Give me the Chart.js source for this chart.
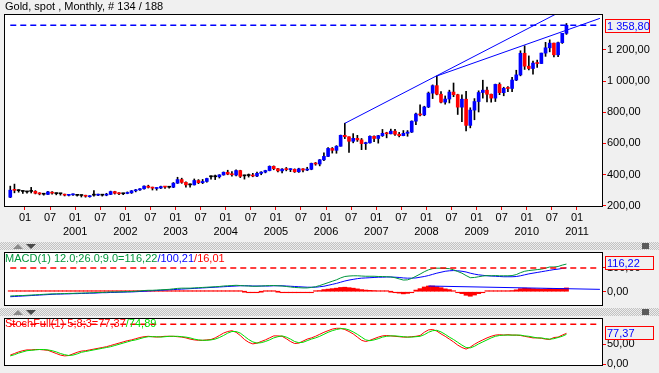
<!DOCTYPE html>
<html>
<head>
<meta charset="utf-8">
<script src="https://cdn.jsdelivr.net/npm/chart.js@4.4.1/dist/chart.umd.min.js"></script>
<style>
  body { margin: 0; width: 659px; height: 373px; overflow: hidden; position: relative; background: #f0f0f0;
         font-family: "Liberation Sans", Arial, sans-serif; font-size: 11px; }
  canvas { position: absolute; left: 0; }
  .title { position: absolute; left: 5px; white-space: nowrap; line-height: 13px; z-index: 2; }
  .band { position: absolute; left: 0; width: 659px; height: 8px;
          background: repeating-conic-gradient(#c2c2c2 0 25%, #ededed 0 50%) 0 0 / 2px 2px; }
  .up { position: absolute; left: 13px; top: 2px; width: 0; height: 0;
        border-left: 5px solid transparent; border-right: 5px solid transparent; border-bottom: 5px solid #8a8a8a; }
  .down { position: absolute; left: 26px; top: 2px; width: 0; height: 0;
          border-left: 5px solid transparent; border-right: 5px solid transparent; border-top: 5px solid #4a4a4a; }
  .close { position: absolute; left: 642px; top: 1px; width: 7px; height: 6px; background: #5a5a5a; }
</style>
</head>
<body>
<div class="title" style="top:0">Gold, spot , Monthly, # 134 / 188</div>
<canvas id="price" width="659" height="240" style="top:0"></canvas>
<div class="band" style="top:242px"><div class="up"></div><div class="down"></div><div class="close"></div></div>
<canvas id="macd" width="659" height="56" style="top:251px"></canvas>
<div class="title" style="top:252px"><span style="color:#00963c">MACD(1) 12.0;26.0;9.0=116,22</span><span style="color:#0000ff">/100,21</span><span style="color:#ff0000">/16,01</span></div>
<div class="band" style="top:308px"><div class="up"></div><div class="down"></div><div class="close"></div></div>
<canvas id="stoch" width="659" height="56" style="top:317px"></canvas>
<div class="title" style="top:317px"><span style="color:#ff0000">StochFull(1) 5;8;3=77,37</span><span style="color:#00dd00">/74,89</span></div>

<script>
// Gold spot, monthly candles Sep 1999 - Oct 2010

function monthRange(year, month, count) {
    const out = [];
    for (let k = 0; k < count; k++) {
        const y = year + Math.floor((month - 1 + k) / 12);
        const m = (month - 1 + k) % 12 + 1;
        out.push(y + '-' + String(m).padStart(2, '0'));
    }
    return out;
}

const axisMonths = monthRange(1999, 8, 143);     // Aug 1999 .. Jun 2011
const candleMonths = axisMonths.slice(1, 135);   // Sep 1999 .. Oct 2010
const firstYearLabel = 2001;

const opens = [
    255, 301, 297, 292, 289, 292, 293, 280, 274, 273, 284, 278,
    277, 274, 267, 270, 267, 266, 266, 258, 268, 268, 268, 268,
    273, 291, 280, 277, 279, 283, 296, 302, 309, 326, 318, 311,
    314, 323, 319, 319, 345, 368, 350, 334, 334, 362, 348, 356,
    386, 386, 386, 398, 415, 403, 397, 426, 392, 394, 394, 391,
    408, 416, 426, 453, 438, 424, 436, 432, 434, 418, 437, 429,
    434, 472, 468, 495, 517, 568, 556, 582, 652, 643, 614, 633,
    623, 599, 604, 646, 632, 650, 665, 662, 679, 659, 650, 665,
    673, 743, 789, 783, 834, 923, 971, 916, 865, 885, 930, 913,
    833, 884, 716, 814, 869, 927, 942, 916, 891, 979, 926, 955,
    953, 1007, 1040, 1179, 1096, 1081, 1116, 1113, 1180, 1214, 1244, 1169,
    1247, 1307
];
const highs = [
    326, 339, 303, 296, 293, 318, 297, 284, 280, 293, 291, 282,
    279, 275, 272, 276, 272, 269, 268, 265, 298, 275, 272, 280,
    294, 293, 284, 281, 289, 298, 305, 311, 328, 332, 320, 316,
    326, 325, 322, 349, 383, 377, 353, 341, 372, 368, 369, 377,
    392, 397, 400, 417, 428, 420, 430, 428, 397, 404, 408, 416,
    419, 428, 456, 456, 440, 439, 446, 438, 437, 441, 438, 447,
    474, 478, 497, 540, 573, 574, 586, 654, 730, 643, 663, 652,
    632, 608, 649, 649, 652, 690, 672, 692, 691, 671, 683, 683,
    745, 795, 848, 839, 930, 976, 1033, 933, 905, 942, 988, 916,
    912, 934, 829, 888, 938, 1006, 962, 917, 981, 989, 961, 965,
    1025, 1070, 1195, 1227, 1162, 1128, 1135, 1180, 1249, 1265, 1245, 1250,
    1307, 1370
];
const lows = [
    252, 283, 287, 279, 281, 282, 276, 270, 268, 271, 275, 270,
    268, 263, 263, 266, 262, 256, 255, 255, 262, 264, 262, 264,
    271, 275, 271, 271, 277, 279, 289, 299, 306, 314, 301, 300,
    310, 311, 313, 316, 343, 344, 319, 319, 333, 342, 342, 351,
    370, 368, 378, 396, 399, 390, 392, 381, 371, 384, 386, 387,
    399, 411, 424, 431, 418, 411, 424, 419, 414, 414, 418, 425,
    431, 460, 456, 489, 515, 538, 537, 582, 631, 543, 604, 613,
    560, 561, 602, 612, 602, 645, 636, 661, 651, 642, 649, 646,
    670, 720, 776, 778, 830, 888, 912, 860, 852, 860, 900, 786,
    740, 681, 700, 752, 802, 891, 866, 865, 869, 913, 906, 932,
    932, 1003, 1034, 1075, 1072, 1044, 1088, 1113, 1159, 1188, 1155, 1157,
    1242, 1300
];
const closes = [
    300, 299, 297, 292, 289, 292, 280, 276, 274, 289, 281, 278,
    277, 268, 270, 273, 267, 266, 261, 264, 268, 272, 268, 273,
    291, 280, 277, 277, 283, 296, 302, 309, 326, 318, 313, 314,
    323, 320, 319, 345, 368, 350, 334, 334, 362, 348, 356, 375,
    386, 386, 398, 415, 403, 399, 426, 389, 392, 394, 391, 408,
    416, 426, 453, 438, 424, 435, 432, 434, 418, 437, 429, 434,
    472, 468, 495, 517, 568, 556, 582, 652, 643, 614, 633, 623,
    599, 604, 646, 632, 650, 665, 662, 679, 659, 650, 665, 673,
    743, 789, 783, 834, 923, 971, 916, 865, 885, 930, 913, 833,
    884, 716, 814, 869, 927, 942, 916, 891, 979, 926, 954, 953,
    1007, 1040, 1179, 1096, 1081, 1116, 1113, 1180, 1214, 1244, 1169, 1247,
    1307, 1358.8
];
const priceTicks = [200, 400, 600, 800, 1000, 1200];

// drawn lines on the price panel
const lastCloseMonths = ['1999-09', '2011-06'];
const lastCloseValues = [1358.8, 1358.8];
const trendAMonths = ['2006-05', '2011-06'];
const trendAValues = [729, 1577];
const trendBMonths = ['2008-03', '2011-06'];
const trendBValues = [1033, 1403];

// MACD 12/26/9
const macdLine = [
    -18, -17, -16, -16, -15, -14, -13, -12, -11, -10, -9, -9,
    -8, -8, -7, -7, -6, -6, -5, -5, -4, -3, -3, -2,
    -1, -1, -1, 0, 0, 1, 2, 3, 5, 6, 6, 7,
    8, 9, 10, 12, 14, 15, 15, 15, 16, 17, 18, 19,
    20, 21, 22, 24, 25, 26, 27, 26, 25, 24, 23, 23,
    24, 25, 26, 26, 25, 24, 22, 20, 18, 17, 16, 16,
    18, 21, 26, 32, 38, 44, 50, 58, 64, 66, 67, 67,
    66, 65, 65, 65, 64, 64, 63, 62, 59, 54, 49, 50,
    56, 65, 74, 84, 92, 97, 99, 99, 98, 97, 92, 85,
    78, 68, 59, 60, 63, 66, 68, 67, 68, 67, 67, 67,
    68, 72, 80, 86, 89, 91, 93, 95, 99, 104, 104, 106,
    112, 116.22
];
const signalLine = [
    -21, -20, -19, -18, -17, -16, -15, -14, -13, -12, -11, -10,
    -10, -9, -9, -8, -8, -7, -7, -6, -6, -5, -4, -4,
    -3, -3, -2, -2, -1, -1, 0, 1, 2, 3, 4, 5,
    6, 7, 8, 9, 10, 11, 12, 13, 14, 15, 16, 17,
    18, 19, 20, 21, 22, 23, 24, 25, 25, 25, 24, 24,
    24, 24, 24, 25, 25, 25, 24, 23, 22, 21, 20, 19,
    19, 19, 21, 23, 27, 31, 35, 40, 45, 49, 52, 55,
    57, 58, 59, 60, 61, 61, 62, 62, 61, 60, 58, 57,
    57, 58, 61, 64, 68, 73, 78, 82, 86, 88, 89, 88,
    86, 83, 78, 74, 71, 69, 67, 66, 65, 64, 63, 63,
    63, 64, 67, 71, 75, 78, 81, 84, 87, 90, 93, 95,
    98, 100.21
];
const macdHist = [
    3, 3, 3, 2, 2, 2, 2, 2, 2, 2, 2, 1,
    2, 1, 2, 1, 2, 1, 2, 1, 2, 2, 1, 2,
    2, 2, 1, 2, 1, 2, 2, 2, 3, 3, 2, 2,
    2, 2, 2, 3, 4, 4, 3, 2, 2, 2, 2, 2,
    2, 2, 2, 3, 3, 3, 3, 1, 0, -1, -1, -1,
    0, 1, 2, 1, 0, -1, -2, -3, -4, -4, -4, -3,
    -1, 2, 5, 9, 11, 13, 15, 18, 19, 17, 15, 12,
    9, 7, 6, 5, 3, 3, 1, 0, -2, -6, -9, -7,
    -1, 7, 13, 20, 24, 24, 21, 17, 12, 9, 3, -3,
    -8, -15, -19, -14, -8, -3, 1, 1, 3, 3, 4, 4,
    5, 8, 13, 15, 14, 13, 12, 11, 12, 14, 11, 11,
    14, 16.01
];
const macdTicks = [0, 100];
const macdLevelMonths = ['1999-09', '2011-06'];
const macdLevelValues = [100, 100];
const histTrendMonths = ['2008-01', '2011-06'];
const histTrendValues = [24, 10];

// Stochastic full 5/8/3
const stochK = [
    23, 27, 31, 34, 36, 36, 37, 37, 36, 35, 31, 27,
    23, 21, 22, 26, 30, 33, 34, 36, 38, 40, 42, 44,
    47, 50, 53, 56, 59, 61, 64, 67, 69, 70, 69, 68,
    69, 70, 70, 70, 69, 68, 66, 63, 61, 60, 60, 61,
    62, 66, 72, 78, 82, 84, 80, 72, 62, 55, 51, 53,
    57, 61, 66, 71, 71, 70, 64, 57, 52, 53, 58, 63,
    66, 70, 75, 80, 84, 88, 90, 90, 87, 82, 76, 68,
    60, 57, 60, 64, 68, 71, 72, 71, 70, 69, 68, 68,
    69, 70, 72, 80, 86, 87, 83, 76, 70, 63, 56, 48,
    42, 38, 43, 50, 56, 61, 66, 70, 73, 74, 73, 74,
    73, 73, 72, 70, 68, 66, 66, 65, 63, 62, 67, 68,
    73, 77.37
];
const stochD = [
    21, 24, 28, 31, 34, 35, 36, 37, 37, 36, 34, 31,
    27, 24, 22, 23, 26, 30, 32, 34, 36, 38, 40, 42,
    44, 47, 50, 53, 56, 59, 61, 64, 67, 69, 69, 69,
    68, 69, 70, 70, 70, 69, 68, 66, 63, 61, 60, 60,
    61, 63, 67, 72, 78, 82, 82, 78, 70, 62, 56, 53,
    54, 57, 61, 66, 69, 71, 68, 63, 57, 54, 55, 59,
    63, 66, 70, 75, 80, 84, 87, 89, 89, 86, 81, 75,
    68, 61, 59, 61, 64, 68, 70, 71, 71, 70, 69, 68,
    68, 69, 70, 74, 80, 84, 85, 81, 75, 68, 62, 55,
    48, 42, 41, 45, 51, 56, 61, 66, 70, 72, 73, 73,
    73, 73, 73, 71, 70, 68, 66, 66, 64, 63, 64, 67,
    70, 74.89
];
const stochTicks = [0, 50];
const stochLevelMonths = ['1999-09', '2011-06'];
const stochLevelValues = [100, 100];

const BLUE = '#0000ff';
const RED = '#ff0000';
const MACD_GREEN = '#00963c';
const STOCH_GREEN = '#00dd00';
const FONT = '"Liberation Sans", Arial, sans-serif';

Chart.defaults.font.family = FONT;
Chart.defaults.font.size = 11;
Chart.defaults.color = '#000';
Chart.defaults.animation = false;

// 1 358,80 style numbers
function fmt(v) {
    const parts = Number(v).toFixed(2).split('.');
    return parts[0].replace(/\B(?=(\d{3})+(?!\d))/g, ' ') + ',' + parts[1];
}

function points(months, values) {
    return months.map((m, i) => ({ x: m, y: values[i] }));
}

function xTickLabel(month) {
    if (!month) return '';
    const [yy, mm] = month.split('-');
    if (mm === '01') return Number(yy) >= firstYearLabel ? ['01', yy] : '01';
    if (mm === '07') return '07';
    return '';
}

function isTickMonth(month) {
    return !!month && (month.endsWith('-01') || month.endsWith('-07'));
}

// white plot area with black frame
const framePlugin = {
    id: 'frame',
    beforeDraw(chart) {
        const a = chart.chartArea;
        const ctx = chart.ctx;
        ctx.save();
        ctx.fillStyle = '#fff';
        ctx.fillRect(a.left, a.top, a.right - a.left, a.bottom - a.top);
        ctx.restore();
    },
    afterDraw(chart) {
        const a = chart.chartArea;
        const ctx = chart.ctx;
        ctx.save();
        ctx.strokeStyle = '#000';
        ctx.lineWidth = 1;
        ctx.strokeRect(Math.round(a.left) + 0.5, Math.round(a.top) + 0.5,
            Math.round(a.right - a.left), Math.round(a.bottom - a.top) - 1);
        ctx.restore();
    }
};

// boxed last value on the right axis
const lastValuePlugin = {
    id: 'lastValue',
    afterDraw(chart, args, opts) {
        if (opts.value == null) return;
        const ctx = chart.ctx;
        const y = Math.round(chart.scales.y.getPixelForValue(opts.value)) + (opts.dy || 0);
        const x = Math.round(chart.chartArea.right) + 3;
        ctx.save();
        ctx.fillStyle = '#f0f0f0';
        ctx.fillRect(x, y - 6, opts.width, 13);
        ctx.strokeStyle = RED;
        ctx.lineWidth = 1;
        ctx.strokeRect(x + 0.5, y - 6.5, opts.width, 13);
        ctx.fillStyle = BLUE;
        ctx.font = '11px ' + FONT;
        ctx.textBaseline = 'middle';
        ctx.fillText(opts.text, x + 2, y + 0.5);
        ctx.restore();
    }
};

function rightAxis(min, max, ticks) {
    return {
        position: 'right',
        min: min,
        max: max,
        afterBuildTicks: scale => { scale.ticks = ticks.map(v => ({ value: v })); },
        afterFit: scale => {
            scale.width = 57;
            // labels sit inside the range, so no extra room above/below the plot
            scale.paddingTop = 0;
            scale.paddingBottom = 0;
        },
        border: { display: false },
        grid: { drawOnChartArea: false, drawTicks: true, tickLength: 4, color: RED },
        ticks: { padding: 1, color: '#000', callback: v => fmt(v) }
    };
}

function lineSet(data, color, width, dash, order) {
    return {
        type: 'line', data: data, borderColor: color, borderWidth: width,
        borderDash: dash || [], pointRadius: 0, tension: 0, order: order
    };
}

// price panel
new Chart(document.getElementById('price'), {
    type: 'bar',
    data: {
        labels: axisMonths,
        datasets: [
            lineSet(points(lastCloseMonths, lastCloseValues), BLUE, 1.5, [6, 4], 0),
            lineSet(points(trendAMonths, trendAValues), BLUE, 1, null, 0),
            lineSet(points(trendBMonths, trendBValues), BLUE, 1, null, 0),
            {
                data: candleMonths.map((m, i) => ({ x: m, y: [opens[i], closes[i]] })),
                backgroundColor: opens.map((o, i) => closes[i] > o ? BLUE : (closes[i] < o ? RED : '#000')),
                barThickness: 3, minBarLength: 1, grouped: false, order: 1
            },
            {
                data: candleMonths.map((m, i) => ({ x: m, y: [lows[i], highs[i]] })),
                backgroundColor: '#000',
                barThickness: 1, grouped: false, order: 2
            }
        ]
    },
    options: {
        responsive: false,
        layout: { padding: { left: 4, top: 14, right: 0, bottom: 0 } },
        plugins: {
            legend: { display: false },
            tooltip: { enabled: false },
            lastValue: { value: 1358.8, text: fmt(1358.8), width: 44, dy: 1 }
        },
        scales: {
            x: {
                type: 'category',
                offset: true,
                afterFit: scale => { scale.height = 33; },
                border: { display: false },
                grid: {
                    offset: true, drawOnChartArea: false, drawTicks: true, tickLength: 3,
                    color: ctx => isTickMonth(axisMonths[ctx.index]) ? RED : 'rgba(0,0,0,0)'
                },
                ticks: {
                    autoSkip: false, maxRotation: 0, minRotation: 0, padding: 1, labelOffset: -2,
                    color: '#000', font: { size: 11, lineHeight: 1.3 },
                    callback: (value, index) => xTickLabel(axisMonths[index])
                }
            },
            y: rightAxis(192, 1431, priceTicks)
        }
    },
    plugins: [framePlugin, lastValuePlugin]
});

// MACD panel
new Chart(document.getElementById('macd'), {
    type: 'bar',
    data: {
        labels: axisMonths,
        datasets: [
            lineSet(points(macdLevelMonths, macdLevelValues), RED, 1.5, [6, 4], 0),
            lineSet(points(histTrendMonths, histTrendValues), BLUE, 1, null, 0),
            lineSet(points(candleMonths, macdLine), MACD_GREEN, 1, null, 1),
            lineSet(points(candleMonths, signalLine), BLUE, 1, null, 1),
            {
                data: points(candleMonths, macdHist),
                backgroundColor: RED,
                barPercentage: 1, categoryPercentage: 1, minBarLength: 1, grouped: false, order: 3
            }
        ]
    },
    options: {
        responsive: false,
        layout: { padding: { left: 4, top: 1, right: 0, bottom: 1 } },
        plugins: {
            legend: { display: false },
            tooltip: { enabled: false },
            lastValue: { value: 116.22, text: fmt(116.22), width: 48, dy: -1 }
        },
        scales: {
            x: { type: 'category', offset: true, display: false },
            y: rightAxis(-60, 167, macdTicks)
        }
    },
    plugins: [framePlugin, lastValuePlugin]
});

// Stochastic panel
new Chart(document.getElementById('stoch'), {
    type: 'bar',
    data: {
        labels: axisMonths,
        datasets: [
            lineSet(points(stochLevelMonths, stochLevelValues), RED, 1.5, [6, 4], 0),
            lineSet(points(candleMonths, stochD), STOCH_GREEN, 1, null, 1),
            lineSet(points(candleMonths, stochK), RED, 1, null, 2)
        ]
    },
    options: {
        responsive: false,
        layout: { padding: { left: 4, top: 1, right: 0, bottom: 7 } },
        plugins: {
            legend: { display: false },
            tooltip: { enabled: false },
            lastValue: { value: 77.37, text: fmt(77.37), width: 48, dy: 0 }
        },
        scales: {
            x: { type: 'category', offset: true, display: false },
            y: rightAxis(-4.25, 115.75, stochTicks)
        }
    },
    plugins: [framePlugin, lastValuePlugin]
});
</script>
</body>
</html>
